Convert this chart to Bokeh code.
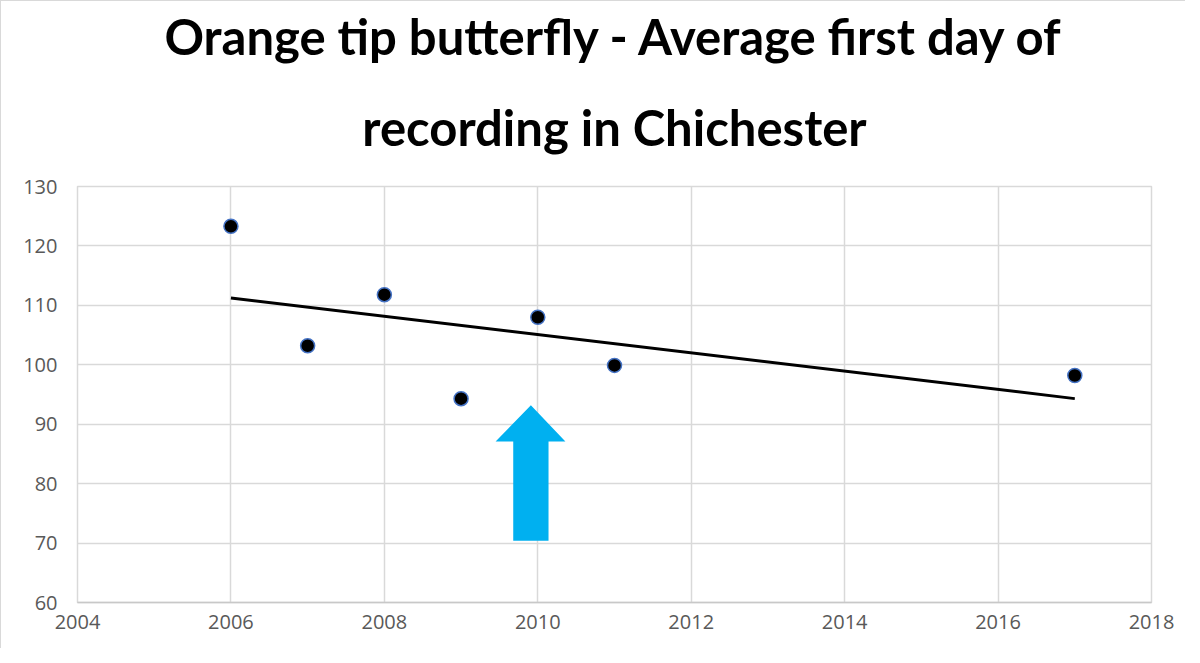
import numpy as np
from bokeh.plotting import figure
from bokeh.models import Title, Range1d, FixedTicker
from bokeh.embed import file_html
from bokeh.resources import INLINE

years = [2006, 2007, 2008, 2009, 2010, 2011, 2017]
first_day = [123.3, 103.2, 111.8, 94.3, 108.0, 99.9, 98.2]

x_ticks = [2004, 2006, 2008, 2010, 2012, 2014, 2016, 2018]
y_ticks = [60, 70, 80, 90, 100, 110, 120, 130]

title_line1 = "Orange tip butterfly - Average first day of"
title_line2 = "recording in Chichester"

# blue arrow outline (data coordinates)
arrow_x = [2009.68, 2010.14, 2010.14, 2010.36, 2009.91, 2009.45, 2009.68]
arrow_y = [70.4, 70.4, 87.1, 87.1, 93.2, 87.1, 87.1]

W, H = 1184, 647
FL, FT, FW, FH = 76, 185, 1074, 416

p = figure(width=W, height=H, output_backend="svg", toolbar_location=None,
           x_range=Range1d(2004, 2018), y_range=Range1d(60, 130),
           min_border_left=FL, min_border_top=FT,
           min_border_right=W - FL - FW, min_border_bottom=H - FT - FH,
           frame_width=FW, frame_height=FH)
p.background_fill_color = "white"
p.border_fill_color = "white"
p.outline_line_color = "#d9d9d9"
p.outline_line_width = 1.5
p.styles = {"border-left": "1px solid #d9d9d9", "border-top": "1px solid #d9d9d9"}

for ax in (p.xaxis[0], p.yaxis[0]):
    ax.major_tick_out = 0
    ax.major_tick_in = 0
    ax.minor_tick_out = 0
    ax.minor_tick_in = 0
    ax.major_label_text_font = "Open Sans"
    ax.major_label_text_font_size = "20px"
    ax.major_label_text_color = "#595959"
p.xaxis.ticker = FixedTicker(ticks=x_ticks)
p.yaxis.ticker = FixedTicker(ticks=y_ticks)
p.xaxis.axis_line_color = "#c8c8c8"
p.xaxis.axis_line_width = 1.5
p.yaxis.axis_line_color = None
p.xaxis.major_label_standoff = 12
p.yaxis.major_label_standoff = 20

p.xgrid.ticker = FixedTicker(ticks=x_ticks)
p.ygrid.ticker = FixedTicker(ticks=y_ticks)
p.grid.grid_line_color = "#d9d9d9"
p.grid.grid_line_width = 1.5

# trend line (least squares fit of the data, as in the source chart)
slope, intercept = np.polyfit(years, first_day, 1)
tx = [min(years), max(years)]
ty = [slope * v + intercept for v in tx]
p.line(tx, ty, line_color="black", line_width=3)

p.scatter(years, first_day, size=14, fill_color="black",
          line_color="#4472C4", line_width=1.5)

p.patch(arrow_x, arrow_y, fill_color="#00B0F0", line_color=None)

# title (two centred lines; later-added titles sit farther from the plot)
p.title = None
title_style = dict(align="center", text_font="Lato", text_font_style="bold",
                   text_font_size="49px", text_color="black")
p.add_layout(Title(text=title_line2, standoff=62, **title_style), "above")
p.add_layout(Title(text=title_line1, standoff=0, **title_style), "above")

open("out.html", "w").write(file_html(p, INLINE))
